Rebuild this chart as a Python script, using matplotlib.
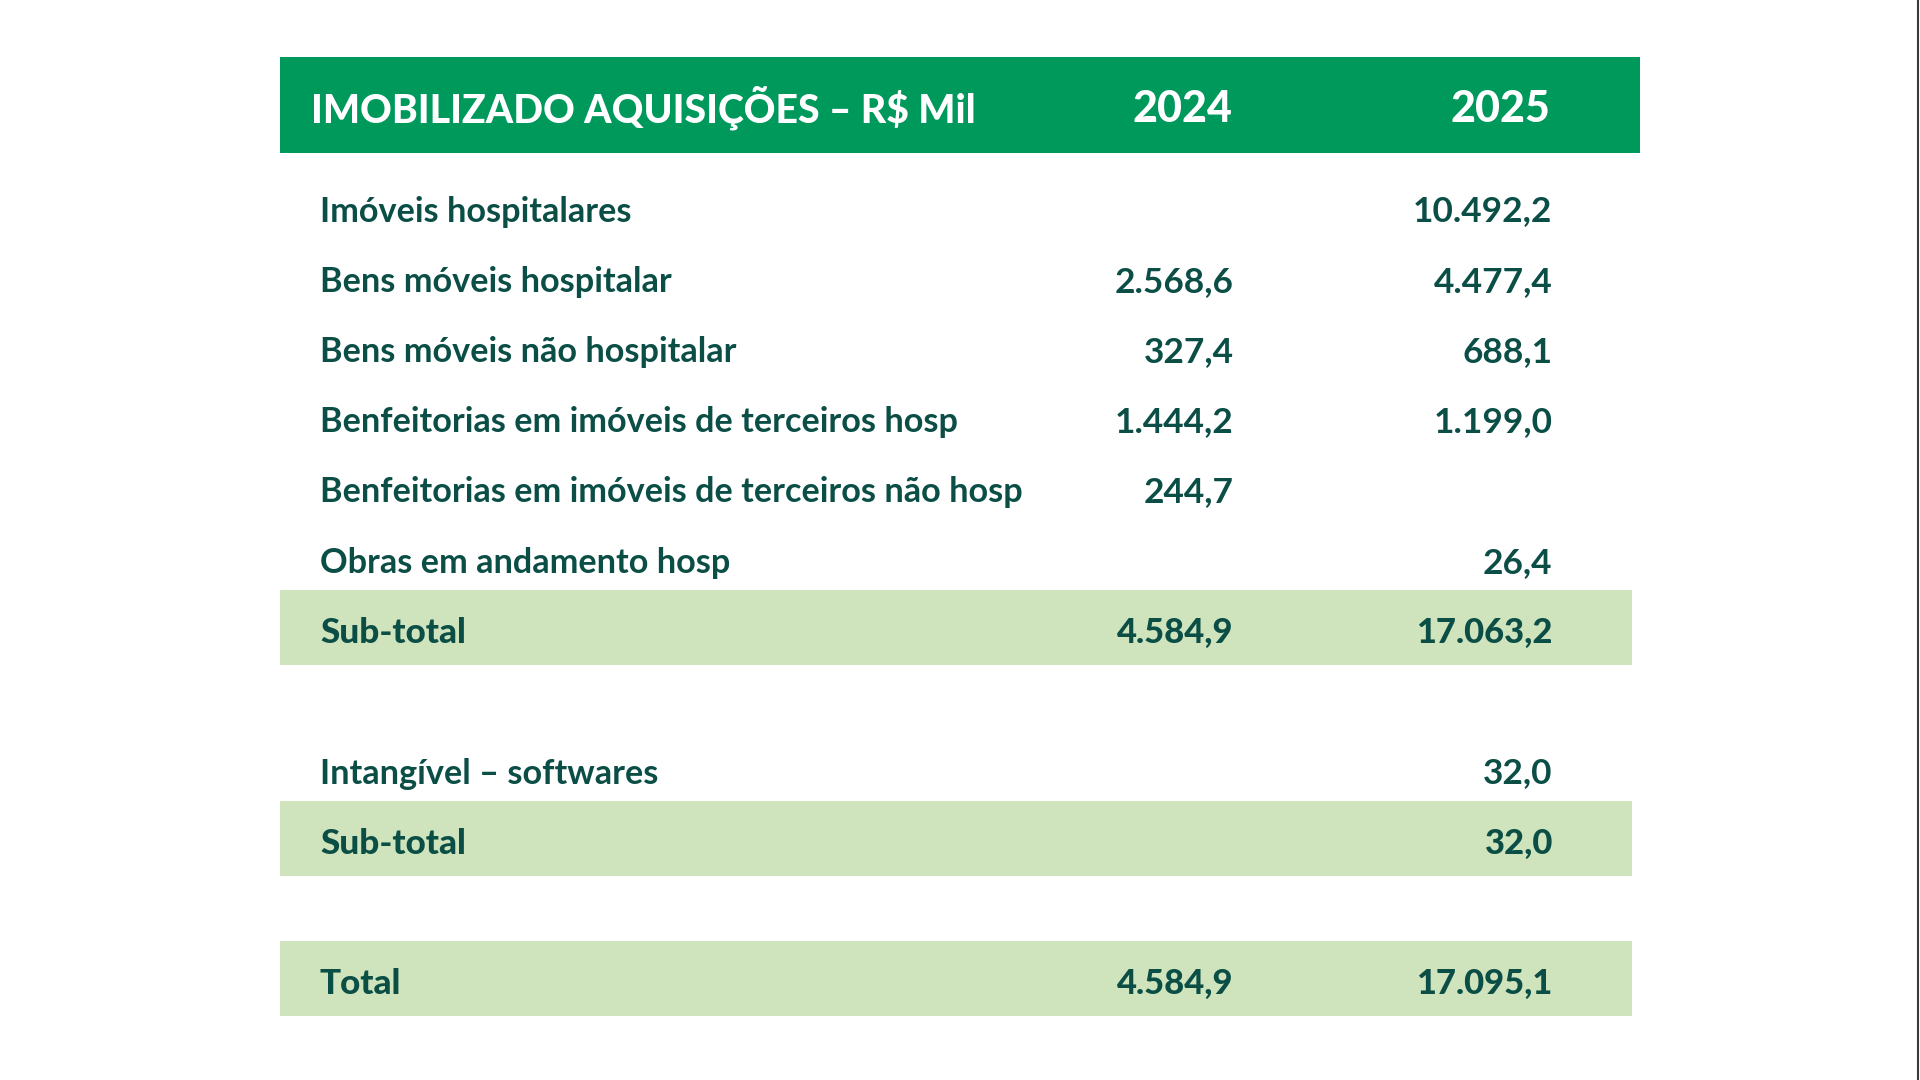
import matplotlib
matplotlib.use("Agg")
import matplotlib.pyplot as plt
from matplotlib.patches import Rectangle

# ---- data ----
title = "IMOBILIZADO AQUISIÇÕES – R$ Mil"
years = ["2024", "2025"]
section1_labels = [
    "Imóveis hospitalares",
    "Bens móveis hospitalar",
    "Bens móveis não hospitalar",
    "Benfeitorias em imóveis de terceiros hosp",
    "Benfeitorias em imóveis de terceiros não hosp",
    "Obras em andamento hosp",
]
section1_2024 = [None, 2568.6, 327.4, 1444.2, 244.7, None]
section1_2025 = [10492.2, 4477.4, 688.1, 1199.0, None, 26.4]
subtotal1 = [4584.9, 17063.2]
section2_labels = ["Intangível – softwares"]
section2_2024 = [None]
section2_2025 = [32.0]
subtotal2 = [None, 32.0]
total = [4584.9, 17095.1]

HEADER_GREEN = "#00995c"
LIGHT_GREEN = "#cfe3bc"
TEXT = "#0b4e46"
FONT = "Lato"


def fmt(v):
    if v is None:
        return ""
    s = f"{v:,.1f}"
    return s.replace(",", "#").replace(".", ",").replace("#", ".")


fig = plt.figure(figsize=(19.2, 10.8), dpi=100)
ax = fig.add_axes([0, 0, 1, 1])
ax.set_xlim(0, 1920)
ax.set_ylim(1080, 0)
ax.axis("off")

left, right_hdr, right_band = 280, 1640, 1632
x_label = 320
x_c1 = 1233.5
x_c2 = 1552.5
row_h = 70.25

# header
ax.add_patch(Rectangle((left, 57), right_hdr - left, 96, color=HEADER_GREEN, lw=0))
hdr_base = 122
ax.text(311, hdr_base, title, color="white", fontsize=28.2, fontweight="black",
        family=FONT, ha="left", va="baseline")
ax.text(x_c1 - 1.5, hdr_base, years[0], color="white", fontsize=31, fontweight="black",
        family=FONT, ha="right", va="baseline")
ax.text(x_c2 - 2.5, hdr_base, years[1], color="white", fontsize=31, fontweight="black",
        family=FONT, ha="right", va="baseline")


def row(base, label, v1, v2, bold=False, band=False):
    if band:
        ax.add_patch(Rectangle((left, base - 53), right_band - left, 75,
                               color=LIGHT_GREEN, lw=0))
    if bold:
        lw, ls, nw, ns = "black", 25.3, "black", 24.8
    else:
        lw, ls, nw, ns = "bold", 24.7, "bold", 25.4
    ax.text(x_label, base, label, color=TEXT, fontsize=ls, fontweight=lw,
            family=FONT, ha="left", va="baseline")
    ax.text(x_c1, base, fmt(v1), color=TEXT, fontsize=ns, fontweight=nw,
            family=FONT, ha="right", va="baseline")
    ax.text(x_c2, base, fmt(v2), color=TEXT, fontsize=ns, fontweight=nw,
            family=FONT, ha="right", va="baseline")


b0 = 221.5
for i, lab in enumerate(section1_labels):
    row(b0 + i * row_h, lab, section1_2024[i], section1_2025[i])
row(b0 + 6 * row_h, "Sub-total", subtotal1[0], subtotal1[1], bold=True, band=True)

b2 = b0 + 8 * row_h
for i, lab in enumerate(section2_labels):
    row(b2 + i * row_h, lab, section2_2024[i], section2_2025[i])
row(b2 + row_h, "Sub-total", subtotal2[0], subtotal2[1], bold=True, band=True)

row(b0 + 11 * row_h, "Total", total[0], total[1], bold=True, band=True)

# thin right border
ax.plot([1918, 1918], [0, 1080], color="#3a3a3a", lw=1.5)

fig.savefig("out.png", dpi=100)
